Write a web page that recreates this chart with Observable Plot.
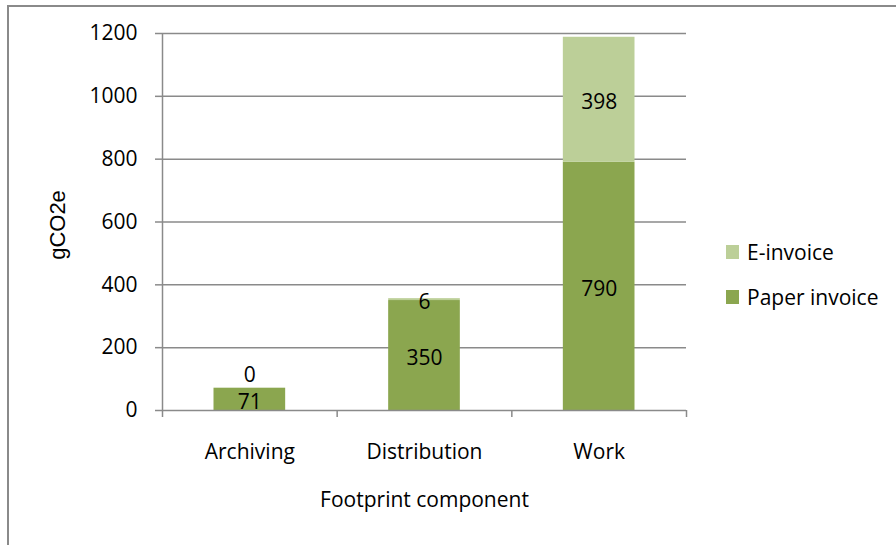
<!DOCTYPE html>
<html>
<head>
<meta charset="utf-8">
<script src="https://cdn.jsdelivr.net/npm/d3@7"></script>
<script src="https://cdn.jsdelivr.net/npm/@observablehq/plot@0.6"></script>
<style>
  html, body { margin: 0; padding: 0; background: #fff; }
  #wrap { position: relative; width: 896px; height: 545px; overflow: hidden; font-family: "Open Sans", sans-serif; }
  #border { position: absolute; left: 7px; top: 5px; width: 1000px; height: 1000px; border-top: 2px solid #8a8a8a; border-left: 2px solid #8a8a8a; box-sizing: border-box; }
  #chart { position: absolute; left: 0; top: 0; }
  #legend { position: absolute; left: 726px; top: 238px; font-size: 21px; color: #000; }
  .item { display: flex; align-items: center; height: 28px; margin-bottom: 17px; }
  .sw { width: 13px; height: 14px; margin-right: 8px; }
  .ylab { font-family: "Liberation Sans", Arial, sans-serif; font-size: 22px; }
</style>
</head>
<body>
<div id="wrap">
  <div id="border"></div>
  <div id="chart"></div>
  <div id="legend"></div>
</div>
<script>
const categories = ["Archiving", "Distribution", "Work"];
const seriesNames = ["Paper invoice", "E-invoice"];
const paperValues = [71, 350, 790];
const eInvoiceValues = [0, 6, 398];
const yTicks = [0, 200, 400, 600, 800, 1000, 1200];
const colors = {"Paper invoice": "#8ba64f", "E-invoice": "#bccf98"};
const legendOrder = ["E-invoice", "Paper invoice"];

const rows = [];
categories.forEach((c, i) => {
  const p = paperValues[i], e = eInvoiceValues[i];
  rows.push({cat: c, i, series: "Paper invoice", value: p, y1: 0, y2: p});
  rows.push({cat: c, i, series: "E-invoice", value: e, y1: p, y2: p + e});
});

const gridColor = "#8a8a8a";
const plot = Plot.plot({
  width: 896,
  height: 545,
  marginLeft: 162,
  marginRight: 210,
  marginTop: 33,
  marginBottom: 135,
  x: {type: "linear", domain: [0, categories.length], axis: null},
  y: {type: "linear", domain: [0, 1200], axis: null},
  style: {fontFamily: "'Open Sans', sans-serif", fontSize: "21px", color: "#000", background: "transparent"},
  marks: [
    Plot.ruleY(yTicks.filter(t => t > 0), {stroke: gridColor, strokeWidth: 1.5}),
    Plot.rectY(rows, {
      x1: d => d.i, x2: d => d.i + 1, y1: "y1", y2: "y2",
      fill: d => colors[d.series], insetLeft: 51.5, insetRight: 51.5
    }),
    Plot.text(rows.filter(d => d.value > 0), {
      x: d => d.i + 0.5, y: d => (d.y1 + d.y2) / 2, text: d => String(d.value),
      dy: 2.5, fill: "#000"
    }),
    Plot.text(rows.filter(d => d.value === 0), {
      x: d => d.i + 0.5, y: "y2", text: d => String(d.value),
      dy: -13, fill: "#000"
    }),
    Plot.ruleX([0], {stroke: gridColor, strokeWidth: 1.5}),
    Plot.ruleY([0], {stroke: gridColor, strokeWidth: 1.5}),
    Plot.axisY(yTicks, {tickSize: 7, tickPadding: 18, stroke: gridColor, strokeWidth: 1.5, tickFormat: d => String(d)}),
    Plot.axisX(d3.range(categories.length + 1), {tickSize: 7, tickFormat: () => "", stroke: gridColor, strokeWidth: 1.5}),
    Plot.text(categories, {x: (d, i) => i + 0.5, frameAnchor: "bottom", lineAnchor: "middle", dy: 42, fill: "#000"}),
    Plot.text(["Footprint component"], {x: categories.length / 2, frameAnchor: "bottom", lineAnchor: "middle", dy: 90, fill: "#000"}),
    Plot.text(["gCO2e"], {frameAnchor: "left", textAnchor: "middle", lineAnchor: "middle", dx: -105, dy: 3, rotate: -90, className: "ylab", fill: "#000"})
  ]
});
document.getElementById("chart").appendChild(plot);

const legend = document.getElementById("legend");
legendOrder.forEach(name => {
  const item = document.createElement("div");
  item.className = "item";
  const sw = document.createElement("div");
  sw.className = "sw";
  sw.style.background = colors[name];
  const label = document.createElement("span");
  label.textContent = name;
  item.appendChild(sw);
  item.appendChild(label);
  legend.appendChild(item);
});
</script>
</body>
</html>
